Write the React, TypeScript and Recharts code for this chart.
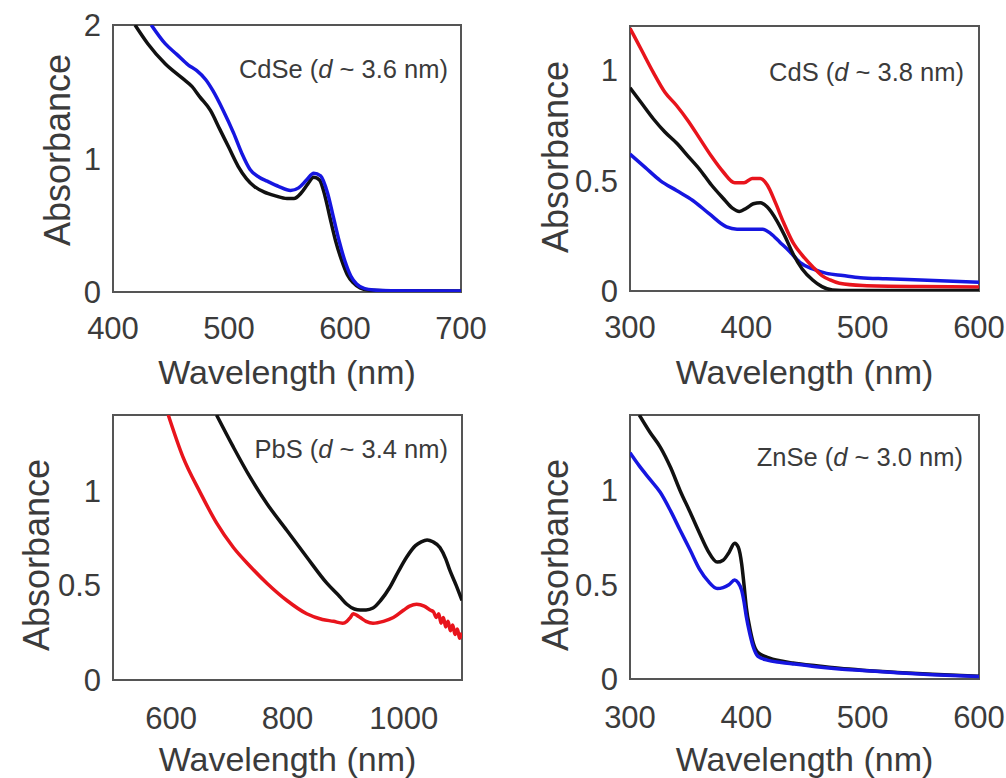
import React from "react";
import { LineChart, Line, XAxis, YAxis, ReferenceArea, Label } from "recharts";

const FONT = "'Liberation Sans', Arial, Helvetica, sans-serif";
const TEXT = "#3b3b3b";
const FRAME = "#555";
const BLACK = "#111111";
const BLUE = "#1616e0";
const RED = "#e8141c";

// CdSe (d ~ 3.6 nm)
const cdseBlackNm = [419, 430, 445, 460, 468, 475, 484, 492, 500, 508, 515, 522, 530, 540, 550, 556, 562, 568, 573, 578, 583, 587, 592, 597, 602, 607, 613, 620, 635, 700];
const cdseBlackAbs = [2.0, 1.86, 1.71, 1.6, 1.54, 1.46, 1.36, 1.22, 1.08, 0.94, 0.85, 0.79, 0.75, 0.72, 0.7, 0.7, 0.74, 0.81, 0.86, 0.84, 0.71, 0.56, 0.38, 0.24, 0.13, 0.07, 0.03, 0.015, 0.01, 0.008];
const cdseBlueNm = [433, 445, 455, 465, 472, 480, 486, 495, 504, 511, 518, 526, 533, 543, 553, 560, 567, 573, 579, 585, 590, 595, 600, 605, 610, 617, 625, 640, 700];
const cdseBlueAbs = [2.0, 1.86, 1.78, 1.7, 1.66, 1.59, 1.51, 1.36, 1.19, 1.04, 0.92, 0.86, 0.83, 0.79, 0.76, 0.78, 0.84, 0.89, 0.87, 0.74, 0.56, 0.38, 0.23, 0.12, 0.06, 0.025, 0.015, 0.01, 0.008];

// CdS (d ~ 3.8 nm)
const cdsRedNm = [300, 310, 320, 330, 340, 350, 360, 370, 380, 390, 398, 405, 412, 418, 425, 432, 440, 450, 457, 465, 472, 480, 500, 550, 600];
const cdsRedAbs = [1.19, 1.09, 0.99, 0.9, 0.84, 0.77, 0.69, 0.61, 0.54, 0.49, 0.49, 0.51, 0.51, 0.48, 0.4, 0.31, 0.22, 0.15, 0.11, 0.07, 0.05, 0.035, 0.025, 0.02, 0.018];
const cdsBlackNm = [300, 310, 320, 330, 340, 350, 360, 370, 380, 388, 394, 400, 406, 412, 418, 426, 433, 440, 448, 457, 465, 474, 490, 550, 600];
const cdsBlackAbs = [0.92, 0.85, 0.78, 0.72, 0.67, 0.61, 0.55, 0.48, 0.42, 0.375, 0.36, 0.375, 0.395, 0.4, 0.38, 0.32, 0.25, 0.17, 0.1, 0.05, 0.02, 0.005, 0.002, 0.002, 0.002];
const cdsBlueNm = [300, 313, 326, 340, 354, 368, 383, 392, 400, 407, 414, 421, 429, 437, 446, 457, 469, 483, 498, 520, 550, 600];
const cdsBlueAbs = [0.62, 0.56, 0.5, 0.455, 0.41, 0.35, 0.29, 0.28, 0.28, 0.28, 0.28, 0.26, 0.22, 0.18, 0.13, 0.1, 0.08, 0.07, 0.06, 0.055, 0.05, 0.04];

// PbS (d ~ 3.4 nm)
const pbsRedNm = [595, 620, 650, 678, 707, 736, 765, 799, 833, 860, 879, 895, 902, 908, 913, 920, 925, 935, 947, 965, 982, 1000, 1010, 1022, 1035, 1045, 1051, 1056, 1060, 1064, 1068, 1072, 1076, 1080, 1084, 1088, 1092, 1096, 1100];
const pbsRedAbs = [1.4, 1.18, 0.99, 0.83, 0.7, 0.6, 0.51, 0.42, 0.35, 0.32, 0.31, 0.3, 0.31, 0.33, 0.35, 0.34, 0.33, 0.31, 0.3, 0.31, 0.33, 0.37, 0.39, 0.4, 0.39, 0.37, 0.36, 0.33, 0.35, 0.3, 0.33, 0.28, 0.31, 0.26, 0.29, 0.24, 0.27, 0.22, 0.25];
const pbsBlackNm = [678, 707, 736, 765, 799, 833, 868, 890, 902, 915, 925, 935, 947, 960, 976, 990, 1005, 1020, 1030, 1040, 1050, 1062, 1072, 1079, 1090, 1100];
const pbsBlackAbs = [1.4, 1.23, 1.07, 0.93, 0.79, 0.65, 0.51, 0.44, 0.4, 0.375, 0.37, 0.37, 0.38, 0.42, 0.49, 0.57, 0.65, 0.71, 0.73, 0.74, 0.73, 0.7, 0.64, 0.58, 0.5, 0.42];

// ZnSe (d ~ 3.0 nm)
const znseBlackNm = [308, 317, 326, 335, 343, 352, 360, 367, 375, 380, 385, 390, 393, 396, 398, 400, 403, 406, 410, 418, 430, 440, 460, 480, 500, 530, 560, 600];
const znseBlackAbs = [1.4, 1.31, 1.23, 1.12, 1.0, 0.88, 0.77, 0.68, 0.62, 0.63, 0.67, 0.72, 0.7, 0.61, 0.5, 0.38, 0.27, 0.19, 0.14, 0.115, 0.095, 0.085, 0.07, 0.057, 0.047, 0.035, 0.025, 0.015];
const znseBlueNm = [300, 308, 317, 326, 335, 343, 352, 360, 367, 375, 380, 385, 390, 393, 396, 398, 400, 403, 406, 410, 418, 430, 440, 460, 480, 500, 530, 560, 600];
const znseBlueAbs = [1.2, 1.13, 1.06, 0.99, 0.89, 0.79, 0.68, 0.58, 0.52, 0.48, 0.485, 0.5, 0.525, 0.51, 0.47, 0.41, 0.33, 0.24, 0.17, 0.12, 0.1, 0.088, 0.08, 0.065, 0.053, 0.045, 0.033, 0.023, 0.013];

const xTicksCdSe = [400, 500, 600, 700];
const xTicks300 = [300, 400, 500, 600];
const xTicksPbS = [600, 800, 1000];
const yTicksCdSe = [0, 1, 2];
const yTicksHalf = [0, 0.5, 1];

const pts = (nm: number[], abs: number[]) => nm.map((x, i) => ({ x, y: abs[i] }));

type Series = { key: string; color: string; data: { x: number; y: number }[] };

interface PanelProps {
  box: { x: number; y: number; w: number; h: number };
  plot: { l: number; t: number; r: number; b: number };
  xDomain: [number, number];
  yDomain: [number, number];
  xTicks: number[];
  yTicks: number[];
  series: Series[];
  name: string;
  size: string;
  tag: { right: number; base: number };
  yTitle: { x: number; cy: number };
  xTitleBase: number;
  xTickGap: number;
  yTickGap: number;
}

function Panel(p: PanelProps) {
  const { box, plot } = p;
  const L = plot.l - box.x;
  const T = plot.t - box.y;
  const R = plot.r - box.x;
  const B = plot.b - box.y;
  const tickStyle = { fill: TEXT, fontSize: 31, fontFamily: FONT };
  return (
    <div style={{ position: "absolute", left: box.x, top: box.y }}>
      <LineChart width={box.w} height={box.h} margin={{ top: T, right: box.w - R, bottom: 0, left: 0 }}>
        <XAxis
          type="number" dataKey="x" domain={p.xDomain} ticks={p.xTicks} allowDataOverflow interval={0}
          height={box.h - B} axisLine={false} tickLine={false} tickSize={0} tickMargin={p.xTickGap}
          tick={tickStyle}
        >
          <Label
            content={() => (
              <text x={(L + R) / 2} y={p.xTitleBase - box.y} textAnchor="middle" fill={TEXT} fontSize={34} fontFamily={FONT}>
                Wavelength (nm)
              </text>
            )}
          />
        </XAxis>
        <YAxis
          type="number" domain={p.yDomain} ticks={p.yTicks} allowDataOverflow interval={0}
          width={L} axisLine={false} tickLine={false} tickSize={0} tickMargin={p.yTickGap}
          tick={tickStyle}
        >
          <Label
            content={() => {
              const x = p.yTitle.x - box.x;
              const y = p.yTitle.cy - box.y;
              return (
                <text x={x} y={y} transform={`rotate(-90 ${x} ${y})`} textAnchor="middle" fill={TEXT} fontSize={36} fontFamily={FONT}>
                  Absorbance
                </text>
              );
            }}
          />
        </YAxis>
        <ReferenceArea
          x1={p.xDomain[0]} x2={p.xDomain[1]} y1={p.yDomain[0]} y2={p.yDomain[1]}
          fill="none" fillOpacity={0} stroke={FRAME} strokeWidth={2}
        >
          <Label
            content={() => (
              <text x={p.tag.right - box.x} y={p.tag.base - box.y} textAnchor="end" fill={TEXT} fontSize={25.5} fontFamily={FONT}>
                {p.name} (<tspan fontStyle="italic">d</tspan> ~ {p.size})
              </text>
            )}
          />
        </ReferenceArea>
        {p.series.map((s) => (
          <Line
            key={s.key} data={s.data} dataKey="y" type="monotone" stroke={s.color}
            strokeWidth={3.5} dot={false} activeDot={false} isAnimationActive={false}
          />
        ))}
      </LineChart>
    </div>
  );
}

export default function App() {
  return (
    <div style={{ position: "absolute", left: 0, top: 0, width: 1006, height: 778, background: "#fff", overflow: "hidden" }}>
      <Panel
        box={{ x: 0, y: 0, w: 503, h: 395 }}
        plot={{ l: 113, t: 25, r: 461, b: 292 }}
        xDomain={[400, 700]} yDomain={[0, 2]} xTicks={xTicksCdSe} yTicks={yTicksCdSe}
        series={[
          { key: "black", color: BLACK, data: pts(cdseBlackNm, cdseBlackAbs) },
          { key: "blue", color: BLUE, data: pts(cdseBlueNm, cdseBlueAbs) },
        ]}
        name="CdSe" size="3.6 nm" tag={{ right: 448, base: 78 }}
        yTitle={{ x: 70, cy: 150 }} xTitleBase={384} xTickGap={25} yTickGap={12}
      />
      <Panel
        box={{ x: 503, y: 0, w: 503, h: 395 }}
        plot={{ l: 630, t: 26, r: 979, b: 291 }}
        xDomain={[300, 600]} yDomain={[0, 1.2]} xTicks={xTicks300} yTicks={yTicksHalf}
        series={[
          { key: "blue", color: BLUE, data: pts(cdsBlueNm, cdsBlueAbs) },
          { key: "red", color: RED, data: pts(cdsRedNm, cdsRedAbs) },
          { key: "black", color: BLACK, data: pts(cdsBlackNm, cdsBlackAbs) },
        ]}
        name="CdS" size="3.8 nm" tag={{ right: 964, base: 81 }}
        yTitle={{ x: 568, cy: 157 }} xTitleBase={384} xTickGap={25} yTickGap={12}
      />
      <Panel
        box={{ x: 0, y: 395, w: 503, h: 383 }}
        plot={{ l: 113, t: 415, r: 462, b: 680 }}
        xDomain={[500, 1100]} yDomain={[0, 1.4]} xTicks={xTicksPbS} yTicks={yTicksHalf}
        series={[
          { key: "red", color: RED, data: pts(pbsRedNm, pbsRedAbs) },
          { key: "black", color: BLACK, data: pts(pbsBlackNm, pbsBlackAbs) },
        ]}
        name="PbS" size="3.4 nm" tag={{ right: 448, base: 458 }}
        yTitle={{ x: 49, cy: 555 }} xTitleBase={771} xTickGap={27} yTickGap={12}
      />
      <Panel
        box={{ x: 503, y: 395, w: 503, h: 383 }}
        plot={{ l: 630, t: 415, r: 979, b: 679 }}
        xDomain={[300, 600]} yDomain={[0, 1.4]} xTicks={xTicks300} yTicks={yTicksHalf}
        series={[
          { key: "black", color: BLACK, data: pts(znseBlackNm, znseBlackAbs) },
          { key: "blue", color: BLUE, data: pts(znseBlueNm, znseBlueAbs) },
        ]}
        name="ZnSe" size="3.0 nm" tag={{ right: 963, base: 466 }}
        yTitle={{ x: 568, cy: 555 }} xTitleBase={771} xTickGap={27} yTickGap={12}
      />
    </div>
  );
}
